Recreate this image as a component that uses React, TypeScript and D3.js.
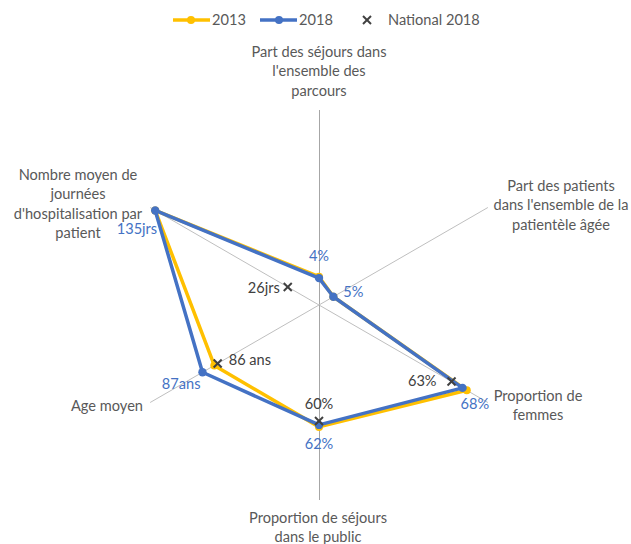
import React from "react";
import * as d3 from "d3";

const axisLabels: string[][] = [
  ["Part des séjours dans", "l'ensemble des", "parcours"],
  ["Part des patients", "dans l'ensemble de la", "patientèle âgée"],
  ["Proportion de", "femmes"],
  ["Proportion de séjours", "dans le public"],
  ["Age moyen"],
  ["Nombre moyen de", "journées", "d'hospitalisation par", "patient"],
];

// normalized radial positions (fraction of axis length)
const values2013 = [0.145, 0.085, 0.875, 0.625, 0.62, 0.97];
const values2018 = [0.138, 0.085, 0.85, 0.615, 0.69, 0.97];
const national2018: (number | null)[] = [null, null, 0.785, 0.595, 0.6, 0.185];

const labels2018 = ["4%", "5%", "68%", "62%", "87ans", "135jrs"];
const labelsNational = ["", "", "63%", "60%", "86 ans", "26jrs"];

const seriesNames = ["2013", "2018", "National 2018"];

const W = 631;
const H = 544;
const cx = 319;
const cy = 305;
const R = 195;
const FONT = "Lato, 'Open Sans', sans-serif";
const FS = 14.6;
const GREY_TXT = "#595959";
const YELLOW = "#FFC000";
const BLUE = "#4472C4";
const XCOL = "#404040";

// layout for axis title blocks: [x, firstLineY, anchor]
const axisLabelPos: [number, number, "start" | "middle" | "end"][] = [
  [319, 57, "middle"],
  [561, 191, "middle"],
  [538, 401, "middle"],
  [318, 523, "middle"],
  [143, 411, "end"],
  [78, 180, "middle"],
];
// offsets for data labels of 2018 series
const lab2018Off: [number, number, "start" | "middle" | "end"][] = [
  [0, -22, "middle"],
  [10, -5, "start"],
  [-2, 16, "start"],
  [0, 19, "middle"],
  [-2, 12, "end"],
  [2, 19, "end"],
];
const labNatOff: [number, number, "start" | "middle" | "end"][] = [
  [0, 0, "middle"],
  [0, 0, "middle"],
  [-15, -1, "end"],
  [0, -17, "middle"],
  [11, -4, "start"],
  [-8, 1, "end"],
];

export default function App() {
  const n = axisLabels.length;
  const r = d3.scaleLinear().domain([0, 1]).range([0, R]);
  const ang = (i: number) => (i * 2 * Math.PI) / n;
  const pt = (i: number, v: number): [number, number] => [
    cx + r(v) * Math.sin(ang(i)),
    cy - r(v) * Math.cos(ang(i)),
  ];
  const radial = d3
    .lineRadial<number>()
    .angle((_d, i) => ang(i))
    .radius((d) => r(d))
    .curve(d3.curveLinearClosed);

  const xMark = (x: number, y: number, s: number, key: string) => (
    <g key={key} stroke={XCOL} strokeWidth={2}>
      <line x1={x - s} y1={y - s} x2={x + s} y2={y + s} />
      <line x1={x - s} y1={y + s} x2={x + s} y2={y - s} />
    </g>
  );

  return (
    <div>
      <style>{`body{margin:0}`}</style>
      <svg width={W} height={H} style={{ display: "block", fontFamily: FONT }}>
        <rect width={W} height={H} fill="#fff" />
        {/* axes */}
        {axisLabels.map((_, i) => {
          const [x, y] = pt(i, 1);
          const vert = Math.abs(x - cx) < 0.5;
          const x1 = vert ? Math.round(cx) + 0.5 : cx;
          const x2 = vert ? Math.round(cx) + 0.5 : x;
          return (
            <line key={i} x1={x1} y1={cy} x2={x2} y2={y} stroke={vert ? "#a6a6a6" : "#bfbfbf"} strokeWidth={1} />
          );
        })}
        {/* axis labels */}
        {axisLabels.map((lines, i) => {
          const [x, y, a] = axisLabelPos[i];
          return (
            <text key={i} fill={GREY_TXT} fontSize={FS} textAnchor={a}>
              {lines.map((l, j) => (
                <tspan key={j} x={x} y={y + j * 19.3}>
                  {l}
                </tspan>
              ))}
            </text>
          );
        })}
        {/* series */}
        <g transform={`translate(${cx},${cy})`}>
          <path d={radial(values2013) || ""} fill="none" stroke={YELLOW} strokeWidth={3.5} strokeLinejoin="round" />
        </g>
        {values2013.map((v, i) => {
          const [x, y] = pt(i, v);
          return <circle key={"a" + i} cx={x} cy={y} r={4} fill={YELLOW} />;
        })}
        <g transform={`translate(${cx},${cy})`}>
          <path d={radial(values2018) || ""} fill="none" stroke={BLUE} strokeWidth={3.5} strokeLinejoin="round" />
        </g>
        {values2018.map((v, i) => {
          const [x, y] = pt(i, v);
          return <circle key={"b" + i} cx={x} cy={y} r={4.2} fill={BLUE} />;
        })}
        {national2018.map((v, i) => {
          if (v == null) return null;
          const [x, y] = pt(i, v);
          return xMark(x, y, 4, "x" + i);
        })}
        {/* data labels */}
        {values2018.map((v, i) => {
          const [x, y] = pt(i, v);
          const [dx, dy, a] = lab2018Off[i];
          return (
            <text key={"l" + i} x={x + dx} y={y + dy + 5} fill={BLUE} fontSize={FS} textAnchor={a}>
              {labels2018[i]}
            </text>
          );
        })}
        {national2018.map((v, i) => {
          if (v == null || !labelsNational[i]) return null;
          const [x, y] = pt(i, v);
          const [dx, dy, a] = labNatOff[i];
          return (
            <text key={"n" + i} x={x + dx} y={y + dy + 5} fill={XCOL} fontSize={FS} textAnchor={a}>
              {labelsNational[i]}
            </text>
          );
        })}
        {/* legend */}
        <g fontSize={FS} fill={GREY_TXT}>
          <line x1={173} y1={20} x2={210} y2={20} stroke={YELLOW} strokeWidth={3.5} />
          <circle cx={191} cy={20} r={4} fill={YELLOW} />
          <text x={212} y={25}>{seriesNames[0]}</text>
          <line x1={260} y1={20} x2={297} y2={20} stroke={BLUE} strokeWidth={3.5} />
          <circle cx={279} cy={20} r={4} fill={BLUE} />
          <text x={299} y={25}>{seriesNames[1]}</text>
          {xMark(367, 20, 4, "lx")}
          <text x={388} y={25}>{seriesNames[2]}</text>
        </g>
      </svg>
    </div>
  );
}
